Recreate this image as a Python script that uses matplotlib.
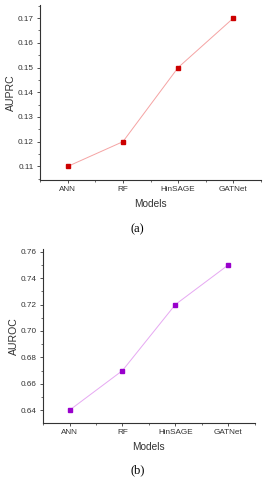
import numpy as np
import matplotlib.pyplot as plt
from matplotlib.ticker import MultipleLocator, FormatStrFormatter

plt.rcParams['font.family'] = ['Liberation Sans', 'DejaVu Sans']

models = ['ANN', 'RF', 'HinSAGE', 'GATNet']
auprc = [0.11, 0.12, 0.15, 0.17]
auroc = [0.64, 0.67, 0.72, 0.75]

x = np.arange(1, len(models) + 1)

fig = plt.figure(figsize=(2.69, 4.8), dpi=100)
ax1 = fig.add_axes([0.149, 0.625, 0.821, 0.365])
ax2 = fig.add_axes([0.160, 0.119, 0.787, 0.362])


def style(ax, vals, ylab, lcol, mcol, ylim, major, minor):
    ax.plot(x, vals, '-', color=lcol, lw=0.7, zorder=2)
    ax.plot(x, vals, 's', color=mcol, ms=3.2, mec=mcol, zorder=3)
    ax.set_xlim(0.5, 4.5)
    ax.set_ylim(*ylim)
    ax.set_xticks(x)
    ax.set_xticklabels(models)
    ax.xaxis.set_minor_locator(MultipleLocator(0.5))
    ax.yaxis.set_major_locator(MultipleLocator(major))
    ax.yaxis.set_minor_locator(MultipleLocator(minor))
    ax.yaxis.set_major_formatter(FormatStrFormatter('%.2f'))
    for s in ['top', 'right']:
        ax.spines[s].set_visible(False)
    for s in ['left', 'bottom']:
        ax.spines[s].set_linewidth(0.8)
        ax.spines[s].set_color('#333333')
    ax.tick_params(which='major', length=2.5, width=0.6, labelsize=5.9,
                   pad=2, colors='#333333')
    ax.tick_params(which='minor', length=1.5, width=0.5, colors='#333333')
    ax.set_xlabel('Models', fontsize=7.3, labelpad=4, color='#333333')
    ax.set_ylabel(ylab, fontsize=7.6, labelpad=1, color='#333333')


style(ax1, auprc, 'AUPRC', '#f5a3a3', '#cc0000', (0.1045, 0.1754), 0.01, 0.005)
style(ax2, auroc, 'AUROC', '#e6a8f2', '#9900cc', (0.6304, 0.762), 0.02, 0.01)

fig.text(0.51, 0.523, '(a)', fontsize=9, family='Liberation Serif',
         ha='center', va='center')
fig.text(0.51, 0.021, '(b)', fontsize=9, family='Liberation Serif',
         ha='center', va='center')

fig.savefig('out.png', dpi=100)
